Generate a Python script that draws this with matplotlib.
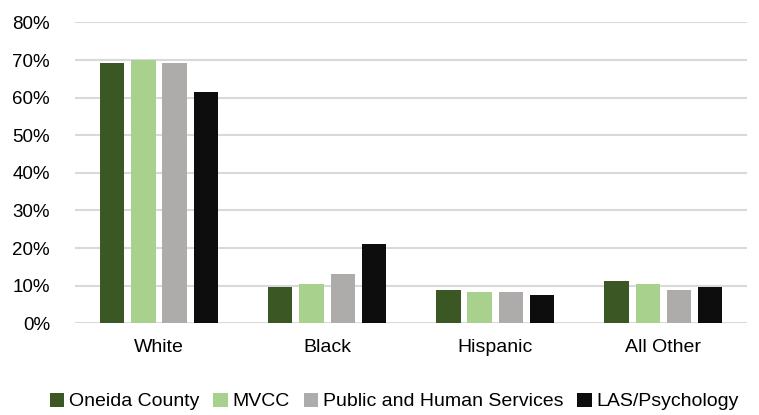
import matplotlib.pyplot as plt
import numpy as np

categories = ["White", "Black", "Hispanic", "All Other"]
series_names = ["Oneida County", "MVCC", "Public and Human Services", "LAS/Psychology"]
oneida = [69.2, 9.7, 8.9, 11.2]
mvcc = [70.0, 10.4, 8.3, 10.5]
phs = [69.2, 13.2, 8.3, 8.9]
las = [61.4, 21.0, 7.5, 9.7]
colors = ["#3B5724", "#A9D18E", "#AEABAB", "#0D0D0D"]

plt.rcParams['font.family'] = ['Liberation Sans', 'DejaVu Sans']

fig = plt.figure(figsize=(7.59, 4.15), dpi=100)
ax = fig.add_axes([0.0988, 0.221, 0.886, 0.725])

x = np.arange(len(categories))
step = 0.186
width = 0.145
for i, vals in enumerate([oneida, mvcc, phs, las]):
    ax.bar(x + (i - 1.5) * step, vals, width, color=colors[i], label=series_names[i], zorder=3)

ax.set_xlim(-0.5, 3.5)
ax.set_ylim(0, 80)
ax.set_yticks(range(0, 81, 10))
ax.set_yticklabels([f"{v}%" for v in range(0, 81, 10)], fontsize=13.5)
ax.set_xticks(x)
ax.set_xticklabels(categories, fontsize=14)
ax.tick_params(axis='y', length=0, pad=18)
ax.tick_params(axis='x', length=0, pad=11)
ax.grid(axis='y', color='#D9D9D9', linewidth=1.5, zorder=0)
for s in ax.spines.values():
    s.set_visible(False)

ax.legend(loc='center', bbox_to_anchor=(0.475, -0.26), ncol=4, frameon=False, fontsize=14,
          handlelength=0.75, handleheight=0.75, handletextpad=0.25, columnspacing=0.7)

plt.savefig("out.png", dpi=100)
